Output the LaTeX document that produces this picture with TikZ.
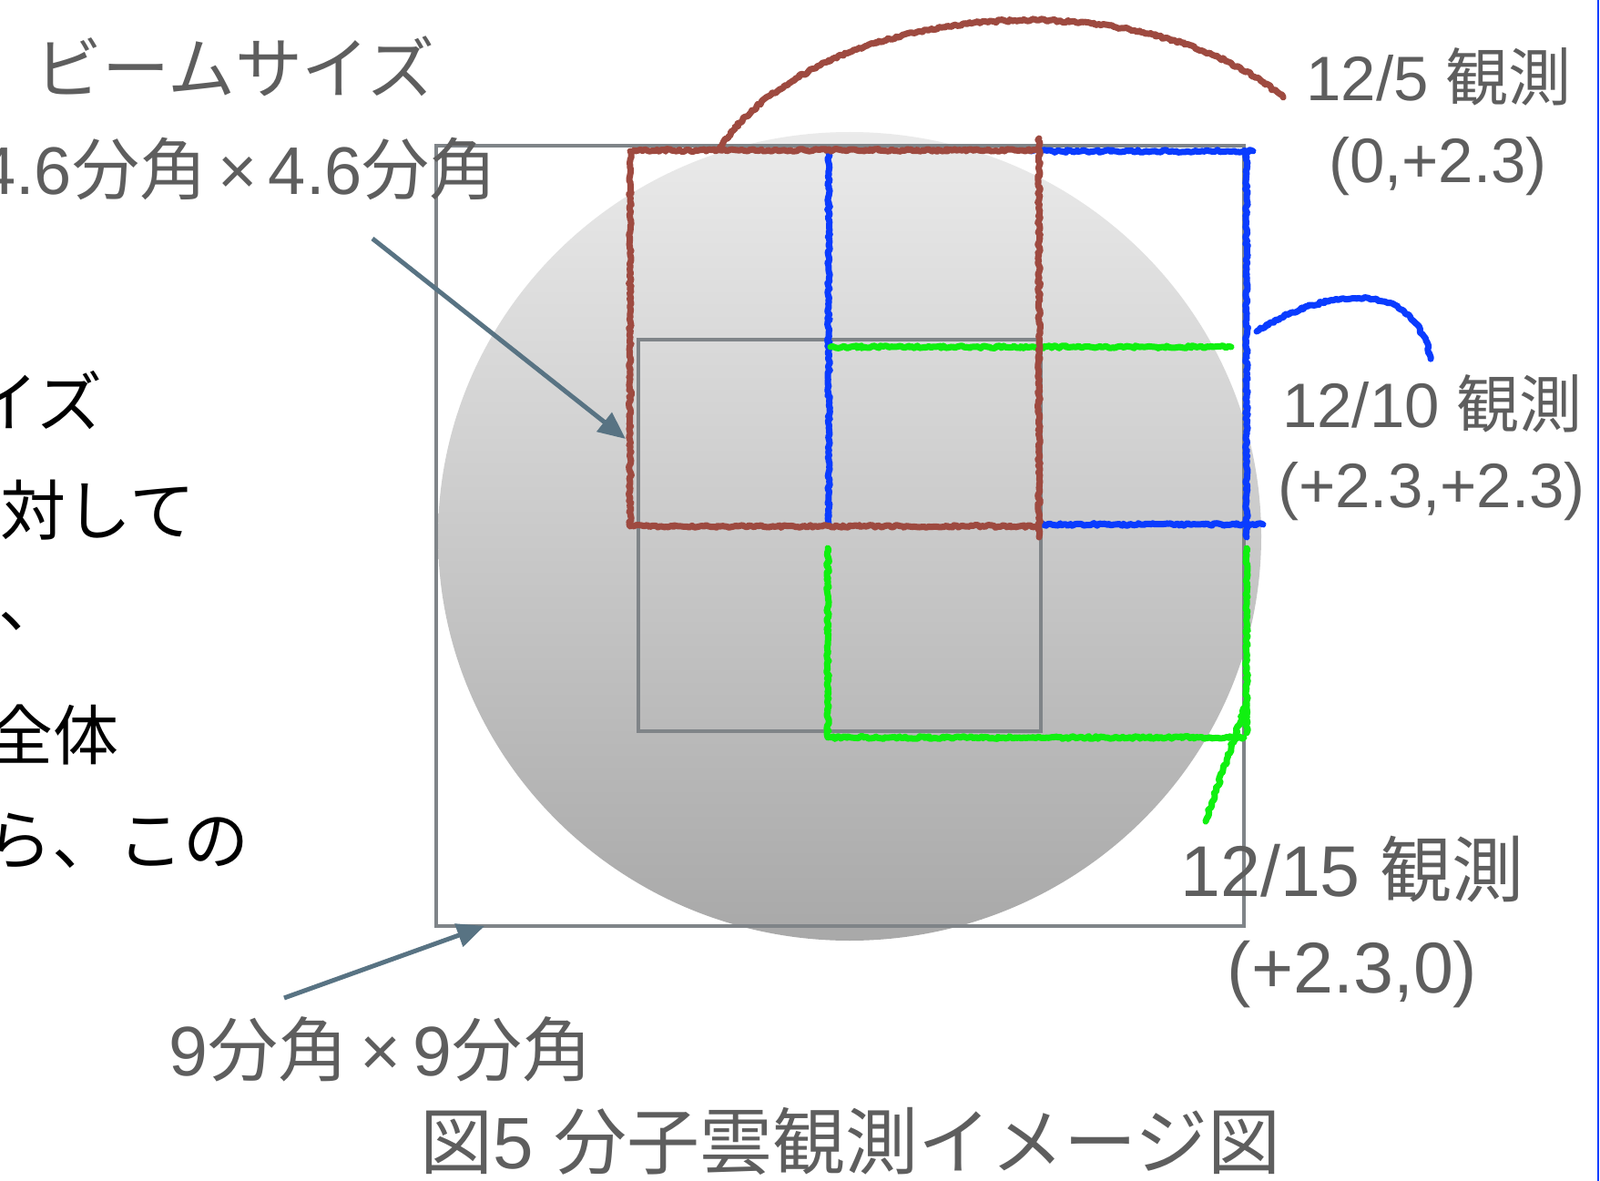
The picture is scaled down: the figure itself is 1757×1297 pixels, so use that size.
\documentclass[tikz,border=0pt]{standalone}
\usepackage{fontspec}
\newfontfamily\jp{Noto Sans CJK JP}
\newfontfamily\lat{Liberation Sans}
\usetikzlibrary{arrows.meta,decorations.pathmorphing}
\definecolor{txtgray}{HTML}{5E5E5E}
\definecolor{boxgray}{HTML}{7F8488}
\definecolor{arrowc}{HTML}{587383}
\definecolor{chalkbrown}{HTML}{9E4A40}
\definecolor{chalkblue}{HTML}{0A3CFF}
\definecolor{chalkgreen}{HTML}{10F010}
\newcommand{\mul}{{\lat\,×\,}}
\begin{document}
\begin{tikzpicture}[x=1pt,y=-1pt,
  lbl/.style={font={\jp\fontsize{69}{80}\selectfont}, text=txtgray, inner sep=0pt},
  lblbig/.style={font={\jp\fontsize{79}{90}\selectfont}, text=txtgray, inner sep=0pt},
  biglbl/.style={font={\jp\fontsize{74}{88}\selectfont}, text=txtgray, inner sep=0pt},
  ninelbl/.style={font={\jp\fontsize{77}{90}\selectfont}, text=txtgray, inner sep=0pt},
  captionlbl/.style={font={\jp\fontsize{80}{92}\selectfont}, text=txtgray, inner sep=0pt},
  body/.style={font={\jp\fontsize{72}{86}\selectfont}, text=black, inner sep=0pt},
  frame/.style={draw=boxgray, line width=4.5pt},
  pointer/.style={draw=arrowc, line width=5pt, -{Triangle[length=30pt,width=26pt]}},
  chalk/.style={line width=7pt, line cap=round, line join=round,
    decorate, decoration={random steps, segment length=2.5pt, amplitude=1.4pt}},
]
\useasboundingbox (0,0) rectangle (1757,1297);
\fill[white] (0,0) rectangle (1757,1297);

% cloud
\shade[top color=black!8, bottom color=black!34]
  (933,589) ellipse [x radius=452pt, y radius=444pt];

% fields
\draw[frame] (479,160) rectangle (1366,1017);
\draw[frame] (701,373) rectangle (1143,803);

% 12/10 (blue)
\draw[chalk, draw=chalkblue] (910,167) -- (910,576);
\draw[chalk, draw=chalkblue] (1132,166) -- (1376,166);
\draw[chalk, draw=chalkblue] (1369,166) -- (1369,590);
\draw[chalk, draw=chalkblue] (1141,576) -- (1387,576);
% 12/15 (green)
\draw[chalk, draw=chalkgreen] (912,381) -- (1352,381);
\draw[chalk, draw=chalkgreen] (909,602) -- (909,810);
\draw[chalk, draw=chalkgreen] (912,810) -- (1366,810);
\draw[chalk, draw=chalkgreen] (1369,602) -- (1369,805);
% 12/5 (brown)
\draw[chalk, draw=chalkbrown] (696,165) -- (1141,165);
\draw[chalk, draw=chalkbrown] (692,166) -- (692,578);
\draw[chalk, draw=chalkbrown] (696,578) -- (1141,578);
\draw[chalk, draw=chalkbrown] (1141,152) -- (1141,590);

% labels
\node[biglbl] (beam) at (258,73) {ビームサイズ};
\node[biglbl, anchor=east] (beamsz) at (546,185) {{\lat 4.6}分角\mul{\lat 4.6}分角};
\node[lbl] (obsA) at (1580,84) {{\lat 12/5 }観測};
\node[lbl] (obsAc) at (1579,183) {\lat (0,+2.3)};
\node[lbl] (obsB) at (1573,443) {{\lat 12/10 }観測};
\node[lbl] (obsBc) at (1572,540) {\lat (+2.3,+2.3)};
\node[lblbig] (obsC) at (1485,955) {{\lat 12/15 }観測};
\node[lblbig] (obsCc) at (1485,1070) {\lat (+2.3,0)};
\node[ninelbl] (nine) at (418,1152) {{\lat 9}分角\mul{\lat 9}分角};
\node[captionlbl] (caption) at (934,1253) {図{\lat 5 }分子雲観測イメージ図};

% body text (cut at the left)
\node[body, anchor=east] (t1) at (113,440) {イズ};
\node[body, anchor=east] (t2) at (215,560) {対して};
\node[body, anchor=west] (t3) at (-2,682) {、};
\node[body, anchor=east] (t4) at (131,807) {全体};
\node[body, anchor=east] (t5) at (274,924) {ら、この};

% leader curves
\coordinate (bA) at (790,163);
\coordinate (bAend) at (1408,106);
\draw[chalk, draw=chalkbrown] (bA) .. controls (900,0) and (1250,-25) .. (bAend);
\coordinate (bB) at (1380,364);
\coordinate (bBend) at (1571,394);
\draw[chalk, draw=chalkblue] (bB) .. controls (1430,330) and (1550,290) .. (bBend);
\coordinate (bC) at (1369,772);
\coordinate (bCend) at (1324,902);
\draw[chalk, draw=chalkgreen] (bC) .. controls (1352,820) .. (bCend);

% pointers
\coordinate (pA) at (409,262);
\coordinate (pAend) at (687,482);
\draw[pointer] (pA) -- (pAend);
\coordinate (pB) at (312,1096);
\coordinate (pBend) at (532,1017);
\draw[pointer] (pB) -- (pBend);

% slide edge
\draw[chalkblue, line width=2pt] (1755,0) -- (1755,1297);
\end{tikzpicture}
\end{document}
